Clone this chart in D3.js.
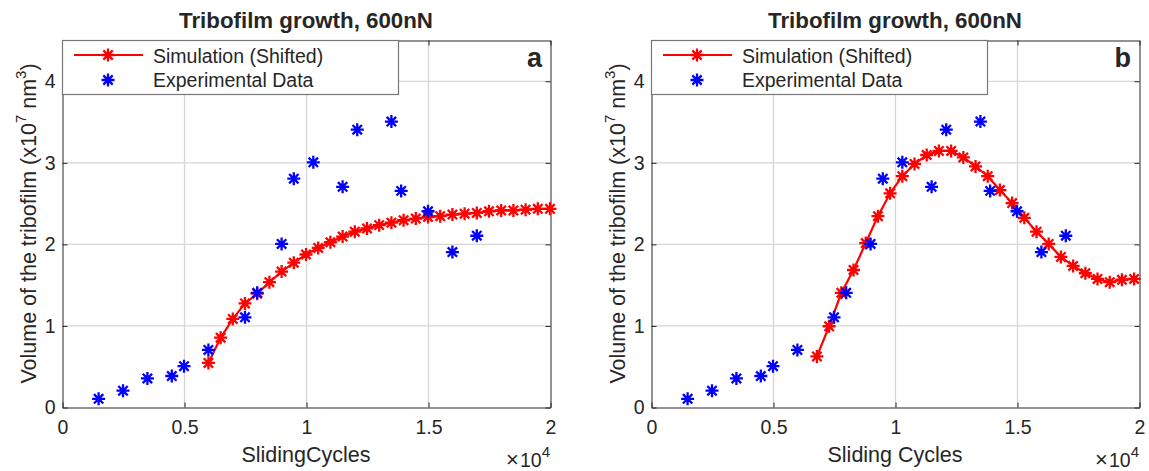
<!DOCTYPE html>
<html lang="en">
<head>
  <meta charset="UTF-8">
  <title>Tribofilm growth</title>
  <style>
    body { margin: 0; background: #fff; }
    text { font-family: "Liberation Sans", Arial, sans-serif; fill: #262626; }
  </style>
</head>
<body>
<svg id="chart" width="1149" height="471"></svg>

<script src="https://d3js.org/d3.v7.min.js"></script>
<script>
// experimental points (same in both panels)
const expCycles = [1500, 2500, 3500, 4500, 5000, 6000, 7500, 8000, 9000, 9500,
                   10300, 11500, 12100, 13500, 13900, 15000, 16000, 17000];
const expVolume = [0.10, 0.20, 0.35, 0.38, 0.50, 0.70, 1.10, 1.40, 2.00, 2.80,
                   3.00, 2.70, 3.40, 3.50, 2.65, 2.40, 1.90, 2.10];

// simulation a : 6000 .. 20000 every 500
const simCyclesA = [6000, 6500, 7000, 7500, 8000, 8500, 9000, 9500, 10000, 10500,
                    11000, 11500, 12000, 12500, 13000, 13500, 14000, 14500, 15000, 15500,
                    16000, 16500, 17000, 17500, 18000, 18500, 19000, 19500, 20000];
const simVolumeA = [0.54, 0.85, 1.08, 1.27, 1.39, 1.53, 1.66, 1.77, 1.87, 1.95,
                    2.02, 2.09, 2.15, 2.19, 2.23, 2.26, 2.29, 2.31, 2.33, 2.34,
                    2.36, 2.37, 2.38, 2.40, 2.41, 2.41, 2.42, 2.43, 2.43];

// simulation b : 6800 .. 19800 every 500
const simCyclesB = [6800, 7300, 7800, 8300, 8800, 9300, 9800, 10300, 10800, 11300,
                    11800, 12300, 12800, 13300, 13800, 14300, 14800, 15300, 15800, 16300,
                    16800, 17300, 17800, 18300, 18800, 19300, 19800];
const simVolumeB = [0.62, 0.99, 1.40, 1.68, 2.01, 2.34, 2.62, 2.83, 2.98, 3.09,
                    3.14, 3.14, 3.06, 2.95, 2.83, 2.66, 2.50, 2.32, 2.15, 2.00,
                    1.84, 1.73, 1.64, 1.57, 1.53, 1.56, 1.57];

const xTicks = [0, 5000, 10000, 15000, 20000];
const yTicks = [0, 1, 2, 3, 4];
const titleText = "Tribofilm growth, 600nN";
const legendLabels = ["Simulation (Shifted)", "Experimental Data"];

const panels = [
  { left: 62,  simX: simCyclesA, simY: simVolumeA, xlabel: "SlidingCycles",  tag: "a" },
  { left: 651, simX: simCyclesB, simY: simVolumeB, xlabel: "Sliding Cycles", tag: "b" }
];

const svg = d3.select("#chart");
const plotTop = 40, w = 488, h = 367;
const fs = 19.5;     // axes font
const lfs = 21.5;    // label font (1.1x)

// asterisk marker (+ and x)
function star(r) {
  const d = r * 0.72;
  return `M${-r},0L${r},0M0,${-r}L0,${r}M${-d},${-d}L${d},${d}M${-d},${d}L${d},${-d}`;
}

panels.forEach(p => {
  const g = svg.append("g").attr("transform", `translate(${p.left},${plotTop})`);
  const x = d3.scaleLinear().domain([0, 20000]).range([0, w]);
  const y = d3.scaleLinear().domain([0, 4.5]).range([h, 0]);

  // grid
  g.append("g").selectAll("line").data(xTicks.slice(1, -1)).join("line")
    .attr("x1", d => x(d) + 0.5).attr("x2", d => x(d) + 0.5)
    .attr("y1", 0).attr("y2", h)
    .attr("stroke", "#d6d6d6").attr("stroke-width", 1.3);
  g.append("g").selectAll("line").data(yTicks.slice(1)).join("line")
    .attr("x1", 0).attr("x2", w)
    .attr("y1", d => y(d) + 0.5).attr("y2", d => y(d) + 0.5)
    .attr("stroke", "#d6d6d6").attr("stroke-width", 1.3);

  // axes (ticks inside, box)
  const ax = (sel) => sel.selectAll("path,line").attr("stroke", "#262626");
  g.append("g").attr("transform", `translate(0.5,${h + 0.5})`)
    .call(d3.axisBottom(x).tickValues(xTicks).tickFormat(d => d / 10000)
      .tickSize(-5).tickSizeOuter(0).tickPadding(13))
    .call(ax)
    .selectAll("text").attr("font-size", fs).attr("fill", "#262626");
  g.append("g").attr("transform", `translate(0.5,0.5)`)
    .call(d3.axisTop(x).tickValues(xTicks).tickFormat("").tickSize(-5).tickSizeOuter(0))
    .call(ax);
  g.append("g").attr("transform", `translate(0.5,0.5)`)
    .call(d3.axisLeft(y).tickValues(yTicks).tickFormat(d3.format("d"))
      .tickSize(-5).tickSizeOuter(0).tickPadding(7))
    .call(ax)
    .selectAll("text").attr("font-size", fs).attr("fill", "#262626");
  g.append("g").attr("transform", `translate(${w + 0.5},0.5)`)
    .call(d3.axisRight(y).tickValues(yTicks).tickFormat("").tickSize(-5).tickSizeOuter(0))
    .call(ax);

  // simulation line + markers
  const line = d3.line().x((d, i) => x(p.simX[i])).y(d => y(d));
  g.append("path").datum(p.simY)
    .attr("d", line).attr("fill", "none")
    .attr("stroke", "#ff0000").attr("stroke-width", 2.2);
  g.append("g").selectAll("path").data(p.simY).join("path")
    .attr("transform", (d, i) => `translate(${x(p.simX[i])},${y(d)})`)
    .attr("d", star(6.5)).attr("stroke", "#ff0000").attr("stroke-width", 2.3).attr("fill", "none");

  // experimental markers
  g.append("g").selectAll("path").data(expVolume).join("path")
    .attr("transform", (d, i) => `translate(${x(expCycles[i])},${y(d)})`)
    .attr("d", star(6.5)).attr("stroke", "#0000ff").attr("stroke-width", 2.3).attr("fill", "none");

  // legend
  const lg = g.append("g");
  lg.append("rect").attr("x", 0.5).attr("y", 0.5).attr("width", 336).attr("height", 54)
    .attr("fill", "#fff").attr("stroke", "#777").attr("stroke-width", 1.2);
  lg.append("line").attr("x1", 12).attr("x2", 81).attr("y1", 15).attr("y2", 15)
    .attr("stroke", "#ff0000").attr("stroke-width", 2.2);
  lg.append("path").attr("transform", "translate(46,15)").attr("d", star(6.5))
    .attr("stroke", "#ff0000").attr("stroke-width", 2.3);
  lg.append("path").attr("transform", "translate(46,40)").attr("d", star(6.5))
    .attr("stroke", "#0000ff").attr("stroke-width", 2.3);
  lg.selectAll("text").data(legendLabels).join("text")
    .attr("x", 91).attr("y", (d, i) => 22.5 + i * 24.5)
    .attr("font-size", fs).text(d => d);

  // panel tag
  g.append("text").attr("x", w - 8).attr("y", 27).attr("text-anchor", "end")
    .attr("font-size", 27).attr("font-weight", "bold").attr("fill", "#000").text(p.tag);

  // title
  g.append("text").attr("x", w / 2).attr("y", -12).attr("text-anchor", "middle")
    .attr("font-size", 22.3).attr("font-weight", "bold").attr("fill", "#000").text(titleText);

  // x label
  g.append("text").attr("x", w / 2).attr("y", 422).attr("text-anchor", "middle")
    .attr("font-size", lfs).text(p.xlabel);

  // x10^4 exponent
  const ex = g.append("text").attr("x", w).attr("y", 427).attr("text-anchor", "end")
    .attr("font-size", fs);
  ex.append("tspan").attr("font-size", 22).text("\u00d7");
  ex.append("tspan").attr("dx", 1).text("10");
  ex.append("tspan").attr("font-size", 15).attr("dy", -10).text("4");

  // y label
  const yl = g.append("text")
    .attr("transform", `translate(-26,${h / 2}) rotate(-90)`)
    .attr("text-anchor", "middle").attr("font-size", lfs);
  yl.append("tspan").text("Volume of the tribofilm (x10");
  yl.append("tspan").attr("font-size", 15).attr("dy", -10).text("7");
  yl.append("tspan").attr("dy", 10).text(" nm");
  yl.append("tspan").attr("font-size", 15).attr("dy", -10).text("3");
  yl.append("tspan").attr("dy", 10).text(")");
});
</script>
</body>
</html>
